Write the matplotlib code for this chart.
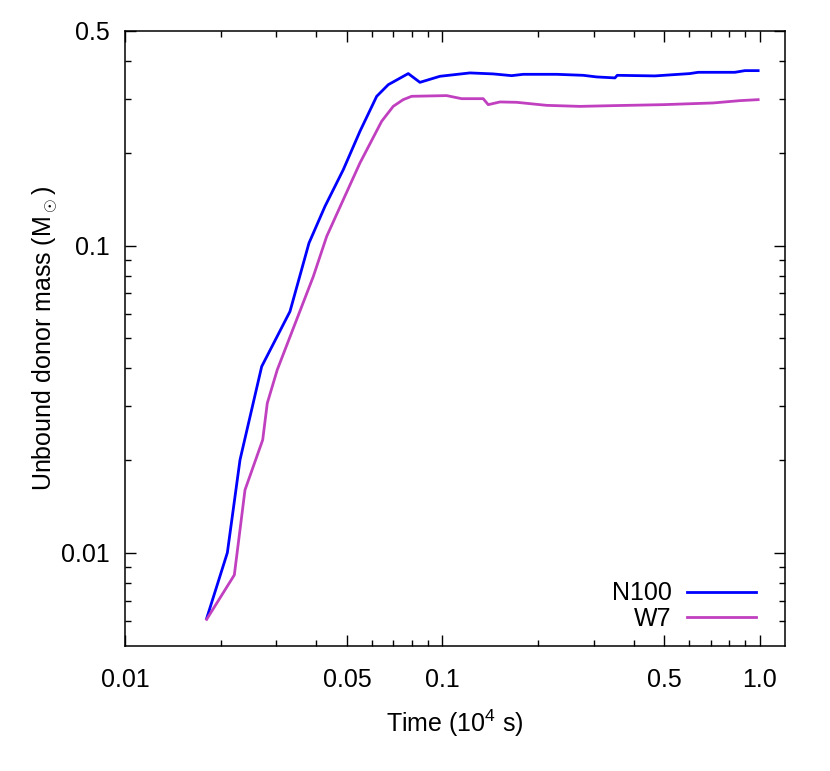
import matplotlib
matplotlib.use("Agg")
import matplotlib.pyplot as plt
from matplotlib.ticker import FixedLocator, NullFormatter

plt.rcParams['font.family'] = ['Liberation Sans', 'DejaVu Sans']
plt.rcParams['mathtext.fontset'] = 'custom'
plt.rcParams['mathtext.rm'] = 'Liberation Sans'

n100_t = [0.01808, 0.02101, 0.02303, 0.02695, 0.03309, 0.03798, 0.04265, 0.04871,
          0.05497, 0.06206, 0.06751, 0.07804, 0.08493, 0.09819, 0.1221, 0.1445,
          0.1652, 0.1797, 0.2289, 0.2777, 0.3059, 0.3495, 0.3554, 0.4670, 0.6018,
          0.6393, 0.8344, 0.8970, 0.9876]
n100_m = [0.00612, 0.01002, 0.02009, 0.04044, 0.0611, 0.1020, 0.1343, 0.1768,
          0.2357, 0.3064, 0.3344, 0.3634, 0.3403, 0.3561, 0.3652, 0.3625,
          0.3578, 0.3614, 0.3614, 0.3587, 0.3544, 0.3518, 0.3587, 0.3571, 0.3634,
          0.3669, 0.3669, 0.3715, 0.3715]

w7_t = [0.01808, 0.02210, 0.02388, 0.02715, 0.02807, 0.03017, 0.03919, 0.04318,
        0.04871, 0.05497, 0.06434, 0.06998, 0.07522, 0.07998, 0.1031, 0.1149,
        0.1344, 0.1394, 0.1518, 0.1713, 0.2129, 0.2711, 0.3451, 0.4960, 0.7127,
        0.8650, 0.9876]
w7_m = [0.00608, 0.00848, 0.01604, 0.02334, 0.03073, 0.03945, 0.0794, 0.1072,
        0.1412, 0.1859, 0.2541, 0.2843, 0.2989, 0.3065, 0.3081, 0.3011,
        0.3011, 0.2879, 0.2938, 0.2930, 0.2864, 0.2842, 0.2858, 0.2879, 0.2916,
        0.2967, 0.2989]

x_major = [0.01, 0.05, 0.1, 0.5, 1.0]
x_major_labels = ['0.01', '0.05', '0.1', '0.5', '1.0']
x_minor = [0.02, 0.03, 0.04, 0.06, 0.07, 0.08, 0.09, 0.2, 0.3, 0.4, 0.6, 0.7, 0.8, 0.9]
y_major = [0.01, 0.1, 0.5]
y_major_labels = ['0.01', '0.1', '0.5']
y_minor = [0.006, 0.007, 0.008, 0.009, 0.02, 0.03, 0.04, 0.05, 0.06, 0.07, 0.08, 0.09,
           0.2, 0.3, 0.4]

fig = plt.figure(figsize=(8.3, 7.71), dpi=100)
ax = fig.add_axes([125/830, 1-646/771, (785-125)/830, (646-31)/771])
ax.set_xscale('log')
ax.set_yscale('log')

ax.plot(n100_t, n100_m, color='#0000ff', lw=2.0, label='N100')
ax.plot(w7_t, w7_m, color='#c040c0', lw=2.0, label='W7')

ax.set_xlim(0.01, 1.2)
ax.set_ylim(0.00498, 0.5)

ax.xaxis.set_major_locator(FixedLocator(x_major))
ax.set_xticklabels(x_major_labels)
ax.xaxis.set_minor_locator(FixedLocator(x_minor))
ax.xaxis.set_minor_formatter(NullFormatter())
ax.yaxis.set_major_locator(FixedLocator(y_major))
ax.set_yticklabels(y_major_labels)
ax.yaxis.set_minor_locator(FixedLocator(y_minor))
ax.yaxis.set_minor_formatter(NullFormatter())

ax.tick_params(which='both', direction='in', top=True, right=True, labelsize=18, width=1)
ax.tick_params(which='major', length=8)
ax.tick_params(which='minor', length=4)
ax.tick_params(axis='x', which='major', pad=16)
ax.tick_params(axis='y', which='major', pad=11)
for s in ax.spines.values():
    s.set_linewidth(1.1)

ax.set_xlabel('Time (10$^4$ s)', fontsize=18, labelpad=11)
ax.set_ylabel('Unbound donor mass (M$_\\odot$)', fontsize=18, labelpad=1)

leg = ax.legend(loc='lower right', frameon=False, markerfirst=False, fontsize=18,
                handlelength=2.75, handletextpad=0.62, labelspacing=0.05,
                borderaxespad=0.0, borderpad=0.0,
                bbox_to_anchor=((756-125)/660, 0.025))
for t in leg.get_texts():
    t.set_ha('right')

fig.savefig('out.png', dpi=100)
